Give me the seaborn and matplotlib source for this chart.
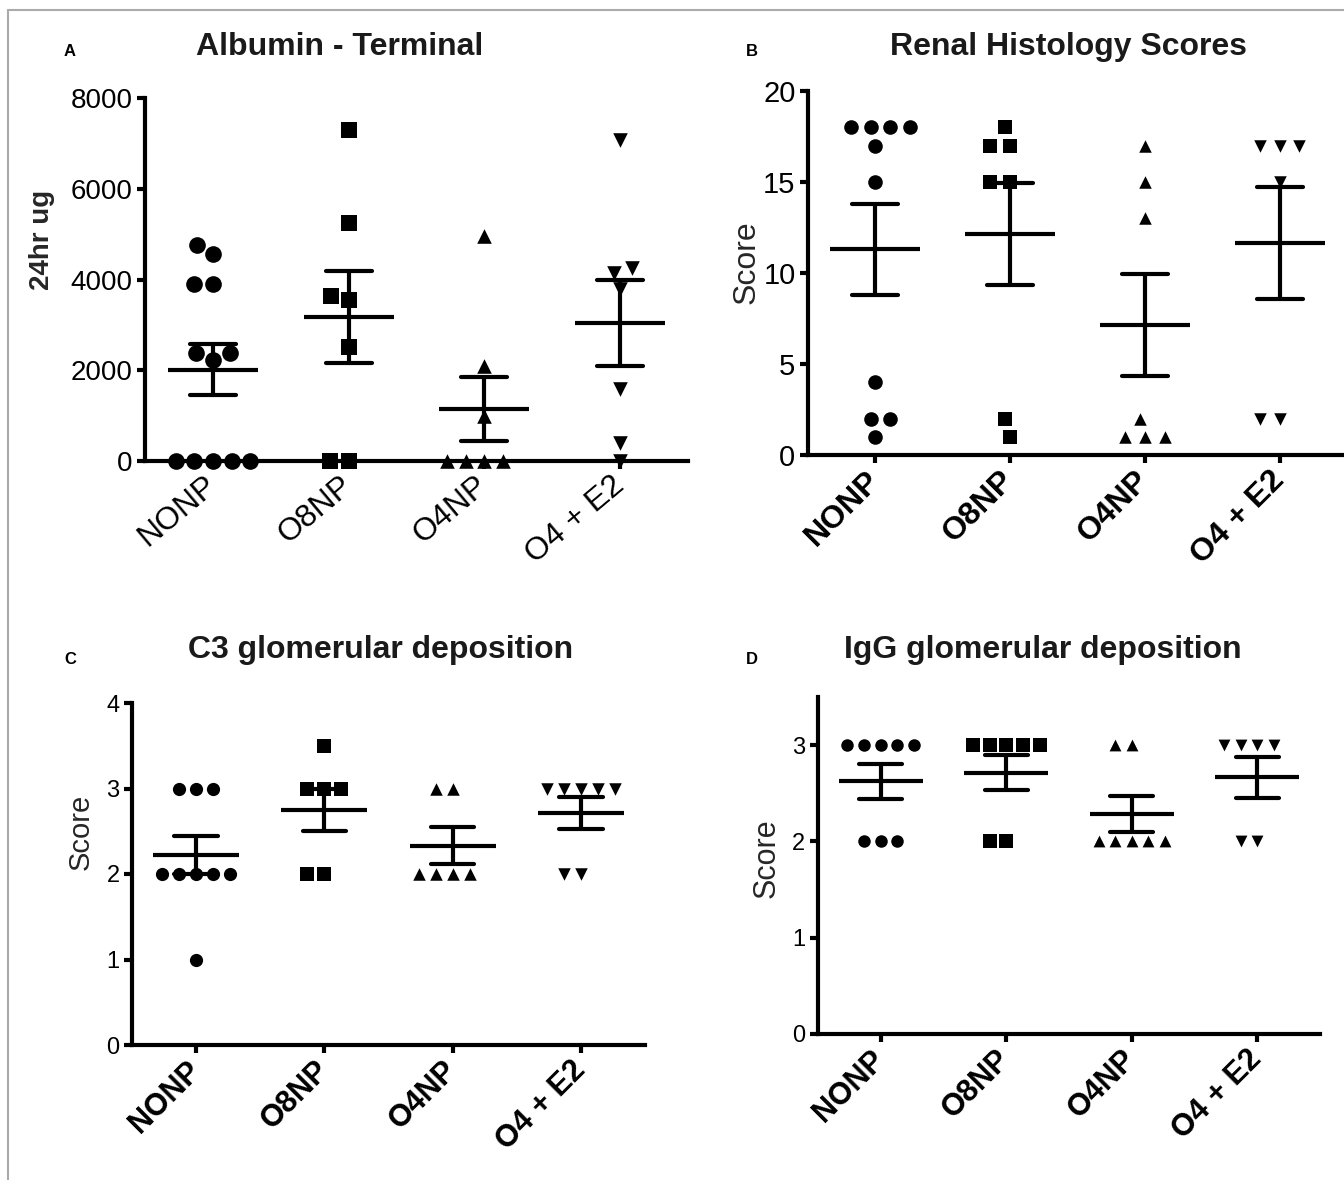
import numpy as np
import pandas as pd
import matplotlib
matplotlib.use("Agg")
import matplotlib.pyplot as plt
import seaborn as sns
from matplotlib.lines import Line2D

# ---------------- data ----------------
groups = ["NONP", "O8NP", "O4NP", "O4 + E2"]

albumin_nonp = [4765, 4558, 3890, 3890, 2380, 2380, 2230, 0, 0, 0, 0, 0]
albumin_o8np = [7305, 5236, 3634, 3538, 2504, 0, 0]
albumin_o4np = [4950, 2100, 1000, 0, 0, 0, 0]
albumin_o4e2 = [7084, 4260, 4150, 3780, 1580, 400, 0]

histo_nonp = [18, 18, 18, 18, 17, 15, 4, 2, 2, 1]
histo_o8np = [18, 17, 17, 15, 15, 2, 1]
histo_o4np = [17, 15, 13, 2, 1, 1, 1]
histo_o4e2 = [17, 17, 17, 15, 2, 2]

c3_nonp = [3, 3, 3, 2, 2, 2, 2, 2, 1]
c3_o8np = [3.5, 3, 3, 3, 2, 2]
c3_o4np = [3, 3, 2, 2, 2, 2]
c3_o4e2 = [3, 3, 3, 3, 3, 2, 2]

igg_nonp = [3, 3, 3, 3, 3, 2, 2, 2]
igg_o8np = [3, 3, 3, 3, 3, 2, 2]
igg_o4np = [3, 3, 2, 2, 2, 2, 2]
igg_o4e2 = [3, 3, 3, 3, 2, 2]

albumin_ticks = [0, 2000, 4000, 6000, 8000]
histo_ticks = [0, 5, 10, 15, 20]
c3_ticks = [0, 1, 2, 3, 4]
igg_ticks = [0, 1, 2, 3]


def frame(lists):
    rows = []
    for g, vals in zip(groups, lists):
        for v in vals:
            rows.append({"group": g, "value": v})
    return pd.DataFrame(rows)


df_alb = frame([albumin_nonp, albumin_o8np, albumin_o4np, albumin_o4e2])
df_his = frame([histo_nonp, histo_o8np, histo_o4np, histo_o4e2])
df_c3 = frame([c3_nonp, c3_o8np, c3_o4np, c3_o4e2])
df_igg = frame([igg_nonp, igg_o8np, igg_o4np, igg_o4e2])

# ---------------- style ----------------
sns.set_theme(style="ticks")
plt.rcParams["font.family"] = ["Liberation Sans", "DejaVu Sans"]

W, H = 1344, 1180
fig = plt.figure(figsize=(W / 100, H / 100), dpi=100)


def px_axes(l, t, r, b):
    return fig.add_axes([l / W, 1 - b / H, (r - l) / W, (b - t) / H])


marker_shapes = ["o", "s", "^", "v"]
swarm_collections = []  # (collection, final marker size)


def panel(ax, df, ylim, yticks, msizes, swarm_pitch, spacing_px, xbold, xrot,
          xfs, yfs, ylabel, ylabel_bold, ylabel_fs, ylabel_pos):
    ax.set_xlim(-0.5, 3.5)
    ax.set_ylim(*ylim)
    for g, m, ms in zip(groups, marker_shapes, msizes):
        sub = df[df["group"] == g]
        n_before = len(ax.collections)
        # swarm laid out with a slightly larger pitch, markers shrunk afterwards
        sns.swarmplot(data=sub, x="group", y="value", order=groups, ax=ax,
                      marker=m, size=swarm_pitch, color="black", linewidth=0,
                      clip_on=False, zorder=4, warn_thresh=1.0)
        for c in ax.collections[n_before:]:
            swarm_collections.append((c, ms))
    sns.pointplot(data=df, x="group", y="value", order=groups, ax=ax,
                  estimator="mean", errorbar="se", capsize=0.34,
                  color="black", marker="_", linestyle="none",
                  markersize=0.66 * spacing_px * 0.72, markeredgewidth=3,
                  err_kws={"linewidth": 3}, zorder=5)
    ax.set_xlim(-0.5, 3.5)
    ax.set_ylim(*ylim)
    ax.set_yticks(yticks)
    ax.set_yticklabels([str(t) for t in yticks], fontsize=yfs)
    ax.set_xticks(range(len(groups)))
    ax.set_xticklabels(groups, fontsize=xfs,
                       fontweight="bold" if xbold else "normal",
                       rotation=xrot, ha="right", va="center",
                       rotation_mode="anchor")
    ax.set_xlabel("")
    ax.set_ylabel(ylabel, fontsize=ylabel_fs,
                  fontweight="bold" if ylabel_bold else "normal")
    ax.yaxis.set_label_coords(*ylabel_pos)
    for s in ["top", "right"]:
        ax.spines[s].set_visible(False)
    for s in ["left", "bottom"]:
        ax.spines[s].set_linewidth(3)
        ax.spines[s].set_color("black")
    ax.tick_params(axis="both", direction="out", length=6, width=3,
                   color="black", labelcolor="black", pad=3)
    ax.tick_params(axis="x", pad=9)
    ax.set_facecolor("white")


axA = px_axes(145, 98, 688, 461)
panel(axA, df_alb, (0, 8000), albumin_ticks, [12, 11.5, 10.5, 10.5], 12.8, 136,
      False, 40, 23, 20, "24hr ug", True, 20, (-0.165, 0.609))

axB = px_axes(808, 91, 1347, 455)
panel(axB, df_his, (0, 20), histo_ticks, [10.5, 10.5, 9, 9], 13.5, 136,
      True, 45, 23, 21, "Score", False, 23, (-0.086, 0.53))

axC = px_axes(132, 703, 645, 1045)
panel(axC, df_c3, (0, 4), c3_ticks, [9.5, 9.5, 9, 9], 11.6, 129,
      True, 45, 22, 17, "Score", False, 21, (-0.072, 0.623))

axD = px_axes(818, 697, 1320, 1034)
panel(axD, df_igg, (0, 3.5), igg_ticks, [9, 10, 8.5, 8.5], 11.4, 126,
      True, 45, 22, 17, "Score", False, 22, (-0.072, 0.522))

# titles and panel letters
titles = [("Albumin - Terminal", 340, 47), ("Renal Histology Scores", 1068, 47),
          ("C3 glomerular deposition", 381, 650),
          ("IgG glomerular deposition", 1043, 650)]
for txt, x, y in titles:
    fig.text(x / W, 1 - y / H, txt, ha="center", va="center",
             fontsize=23, fontweight="bold", color="#1a1a1a")

letters = [("A", 70, 52), ("B", 752, 52), ("C", 70, 660), ("D", 752, 660)]
for txt, x, y in letters:
    fig.text(x / W, 1 - y / H, txt, ha="center", va="center",
             fontsize=12, fontweight="bold", color="black")

# thin grey outer frame (top and left edges)
fig.add_artist(Line2D([8 / W, 1.0], [1 - 10 / H, 1 - 10 / H],
                      transform=fig.transFigure, color="#aaaaaa", lw=1.5))
fig.add_artist(Line2D([8 / W, 8 / W], [0, 1 - 10 / H],
                      transform=fig.transFigure, color="#aaaaaa", lw=1.5))

# first draw lets seaborn lay out the swarms; then freeze and shrink markers
fig.canvas.draw()
for coll, ms in swarm_collections:
    if "draw" in coll.__dict__:
        del coll.draw
    coll.set_sizes([ms ** 2])

fig.savefig("out.png", dpi=100, facecolor="white")
